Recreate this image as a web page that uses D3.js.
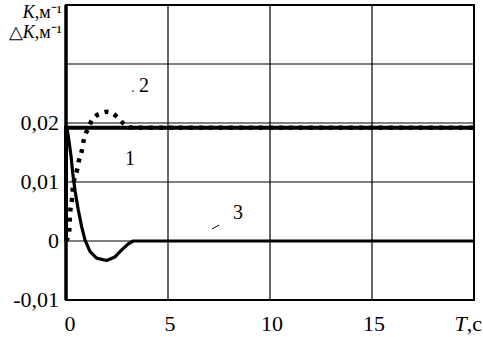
<!DOCTYPE html>
<html>
<head>
<meta charset="utf-8">
<script src="https://cdn.jsdelivr.net/npm/d3@7"></script>
</head>
<body style="margin:0">
<svg id="chart" width="483" height="337">
<text x="482" y="331" text-anchor="end" font-family="Liberation Serif" font-size="22"><tspan font-style="italic">T</tspan>,c</text>
<text x="62" y="18" text-anchor="end" font-family="Liberation Serif" font-size="18"><tspan font-style="italic">K</tspan>,м⁻¹</text>
<text x="62" y="38" text-anchor="end" font-family="Liberation Serif" font-size="18">△<tspan font-style="italic">K</tspan>,м⁻¹</text>
</svg>
<script>
// data -----------------------------------------------------
var xTicks=[0,5,10,15];
var yTicks=[-0.01,0,0.01,0.02];
var yGrid=[0,0.01,0.02,0.03];
var yTickLabels=["-0,01","0","0,01","0,02"];

// curve 1 - step
var t1=[0,0,20];
var k1=[0,0.0192,0.0192];

// curve 2 - dotted
var t2=[0,0.15,0.2,0.29,0.34,0.54,0.64,0.78,0.88,1.08,1.27,1.5,1.76,2.0,2.25,2.45,2.65,2.85,3.04,3.3,20];
var k2=[0,0.0014,0.0047,0.0069,0.0092,0.012,0.0137,0.0154,0.0173,0.019,0.0205,0.0213,0.0217,0.0219,0.0217,0.0212,0.0205,0.0198,0.0193,0.0192,0.0192];

// curve 3 - difference
var t3=[0,0.06,0.16,0.25,0.33,0.44,0.6,0.77,0.93,1.18,1.5,1.99,2.4,2.73,3.05,3.3,20];
var k3=[0.0192,0.0189,0.0166,0.0143,0.0115,0.0086,0.0053,0.0024,0.0002,-0.0018,-0.0029,-0.0033,-0.0027,-0.0015,-0.0005,0,0];

function drawChart(){
var svg=d3.select("#chart");
var x=d3.scaleLinear().domain([0,20]).range([66,474]);
var y=d3.scaleLinear().domain([-0.01,0.04]).range([300,5]);

//grid
svg.insert("g",":first-child").selectAll("line")
	.data(xTicks.slice(1))
	.enter().append("line")
	.attr("x1",function(d){return x(d);})
	.attr("x2",function(d){return x(d);})
	.attr("y1",y(0.04)).attr("y2",y(-0.01))
	.attr("stroke","#000").attr("stroke-width",1.2);
svg.append("g").selectAll("line")
	.data(yGrid)
	.enter().append("line")
	.attr("y1",function(d){return y(d);})
	.attr("y2",function(d){return y(d);})
	.attr("x1",x(0)).attr("x2",x(20))
	.attr("stroke","#000").attr("stroke-width",1.2);

//frame
svg.append("rect")
	.attr("x",x(0)).attr("y",y(0.04))
	.attr("width",x(20)-x(0)).attr("height",y(-0.01)-y(0.04))
	.attr("fill","none").attr("stroke","#000").attr("stroke-width",2);
svg.append("line")
	.attr("x1",x(0)).attr("x2",x(0))
	.attr("y1",y(0.04)).attr("y2",y(-0.01))
	.attr("stroke","#000").attr("stroke-width",3.5);

//curves
function pts(t,k){return t.map(function(d,i){return [x(d),y(k[i])];});}
var line=d3.line();
svg.append("path").attr("d",line(pts(t1,k1)))
	.attr("fill","none").attr("stroke","#000").attr("stroke-width",4);
svg.append("path").attr("d",line(pts(t3,k3)))
	.attr("fill","none").attr("stroke","#000").attr("stroke-width",3.2)
	.attr("stroke-linejoin","round");
svg.append("path").attr("d",d3.line().curve(d3.curveMonotoneX)(pts(t2,k2)))
	.attr("fill","none").attr("stroke","#000").attr("stroke-width",4.5)
	.attr("stroke-dasharray","4,6");

//tick labels
svg.append("g").selectAll("text")
	.data(xTicks)
	.enter().append("text")
	.attr("x",function(d){return x(d)+(d==0?4:2);})
	.attr("y",331)
	.attr("text-anchor","middle")
	.attr("font-family","Liberation Serif")
	.attr("font-size",22)
	.text(function(d){return d;});
svg.append("g").selectAll("text")
	.data(yTicks)
	.enter().append("text")
	.attr("x",59)
	.attr("y",function(d){return y(d)+7;})
	.attr("text-anchor","end")
	.attr("font-family","Liberation Serif")
	.attr("font-size",22)
	.text(function(d,i){return yTickLabels[i];});

//curve labels
svg.append("text").attr("x",139).attr("y",92).attr("font-family","Liberation Serif").attr("font-size",20).text("2");
svg.append("text").attr("x",125).attr("y",165).attr("font-family","Liberation Serif").attr("font-size",20).text("1");
svg.append("text").attr("x",233).attr("y",219).attr("font-family","Liberation Serif").attr("font-size",20).text("3");
svg.append("circle").attr("cx",133).attr("cy",91).attr("r",0.8).attr("fill","#000");
svg.append("line").attr("x1",212).attr("y1",229).attr("x2",219).attr("y2",225)
	.attr("stroke","#000").attr("stroke-width",1);
}

drawChart();
</script>
</body>
</html>
